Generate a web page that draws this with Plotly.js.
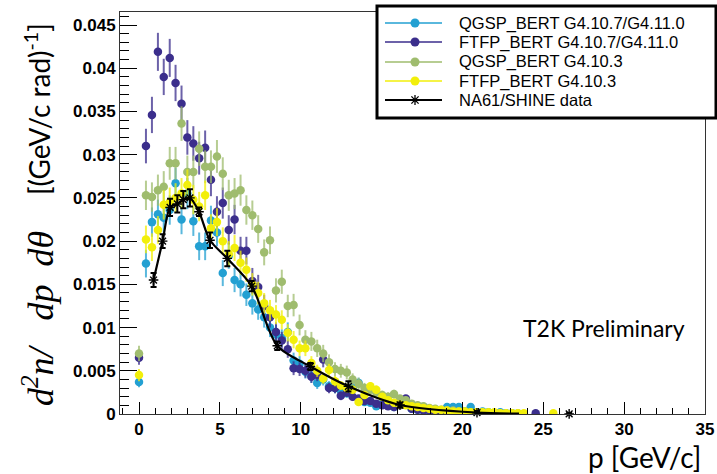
<!DOCTYPE html>
<html><head><meta charset="utf-8">
<script src="https://cdn.plot.ly/plotly-3.0.1.min.js"></script>
<style>html,body{margin:0;padding:0;background:#fff;}#chart{width:717px;height:474px;}</style>
</head><body><div id="chart"></div>
<script>
// momentum bins [GeV/c] shared by the four simulations
const pBins = [0, 0.43, 0.80, 1.17, 1.53, 1.90, 2.26, 2.63, 2.99, 3.36,
 3.72, 4.09, 4.45, 4.82, 5.18, 5.55, 5.91, 6.28, 6.64, 7.01,
 7.37, 7.74, 8.10, 8.47, 8.83, 9.20, 9.56, 9.93, 10.29, 10.66,
 11.02, 11.39, 11.75, 12.12, 12.48, 12.85, 13.21, 13.58, 13.94, 14.31,
 14.67, 15.04, 15.40, 15.77, 16.13, 16.50, 16.86, 17.23, 17.59, 17.96,
 18.32, 18.69, 19.05, 19.42, 19.78, 20.15, 20.51, 20.88, 21.24, 21.61,
 21.97, 22.34, 22.70, 23.07, 23.43, 23.80, 24.16, 24.53, 24.89, 25.26,
 25.62];

const seriesNames = ['QGSP_BERT G4.10.7/G4.11.0', 'FTFP_BERT G4.10.7/G4.11.0', 'QGSP_BERT G4.10.3', 'FTFP_BERT G4.10.3', 'NA61/SHINE data'];
const seriesColors = ['#23a0d2', '#3b2e8c', '#9fbc6e', '#f2ef0a', '#000000'];
const barColors = ['rgba(35,160,210,0.75)', 'rgba(59,46,140,0.75)', 'rgba(159,188,110,0.75)', 'rgba(242,239,10,0.75)'];

const qgspNew = [0.0037, 0.0174, 0.0222, 0.0231, 0.0227, 0.0236, 0.0267, 0.0225, 0.0255, 0.0223,
 0.0194, 0.0194, 0.0224, 0.0210, 0.0163, 0.0183, 0.0155, 0.0150, 0.0138, 0.0128,
 0.0121, 0.0112, 0.0100, 0.0092, 0.0088, 0.0095, 0.0062, 0.0058, 0.0049, 0.0044,
 0.0036, 0.0040, 0.0032, 0.0030, 0.0027, 0.0024, 0.0030, 0.0036, 0.0014, 0.0013,
 0.0009, 0.0012, 0.0010, 0.0008, 0.0011, 0.0012, 0.0006, 0.0005, 0.0004, 0.0003,
 0.0004, 0.0003, 0.0008, 0.0008, 0.0008, 0.0003, 0.0008, 0.0002, 0.0003, 0.0002,
 0.0001, 0.0002, 0.0001, 0.0001, null, null, null, null, null, null,
 null];
const qgspNewErr = [0.0006, 0.0016, 0.0017, 0.0017, 0.0017, 0.0017, 0.0018, 0.0017, 0.0018, 0.0017,
 0.0016, 0.0016, 0.0017, 0.0016, 0.0015, 0.0015, 0.0014, 0.0014, 0.0013, 0.0013,
 0.0012, 0.0012, 0.0011, 0.0011, 0.0010, 0.0011, 0.0009, 0.0009, 0.0008, 0.0008,
 0.0007, 0.0007, 0.0006, 0.0006, 0.0006, 0.0005, 0.0006, 0.0006, 0.0004, 0.0004,
 0.0003, 0.0004, 0.0003, 0.0003, 0.0003, 0.0003, 0.0003, 0.0002, 0.0002, 0.0002,
 0.0002, 0.0002, 0.0003, 0.0003, 0.0003, 0.0002, 0.0003, 0.0001, 0.0002, 0.0001,
 0.0001, 0.0001, 0.0001, 0.0001, null, null, null, null, null, null,
 null];

const ftfpNew = [0.0065, 0.0310, 0.0346, 0.0419, 0.0390, 0.0412, 0.0383, 0.0359, 0.0320, 0.0313,
 0.0296, 0.0308, 0.0271, 0.0234, 0.0244, 0.0213, 0.0225, 0.0189, 0.0189, 0.0154,
 0.0147, 0.0125, 0.0112, 0.0095, 0.0085, 0.0075, 0.0053, 0.0052, 0.0050, 0.0043,
 0.0045, 0.0063, 0.0030, 0.0030, 0.0021, 0.0025, 0.0020, 0.0018, 0.0015, 0.0015,
 0.0012, 0.0010, 0.0009, 0.0008, 0.0010, 0.0018, 0.0006, 0.0005, 0.0004, 0.0004,
 0.0003, 0.0003, 0.0002, 0.0002, 0.0002, 0.0002, 0.0001, 0.0001, null, null,
 null, null, null, null, null, null, null, 0.0001, null, null,
 null];
const ftfpNewErr = [0.0008, 0.0020, 0.0021, 0.0022, 0.0021, 0.0022, 0.0021, 0.0021, 0.0020, 0.0020,
 0.0019, 0.0020, 0.0019, 0.0018, 0.0018, 0.0017, 0.0017, 0.0016, 0.0016, 0.0015,
 0.0014, 0.0013, 0.0012, 0.0011, 0.0010, 0.0010, 0.0008, 0.0008, 0.0008, 0.0007,
 0.0007, 0.0009, 0.0006, 0.0006, 0.0005, 0.0005, 0.0005, 0.0004, 0.0004, 0.0004,
 0.0003, 0.0003, 0.0003, 0.0003, 0.0003, 0.0004, 0.0002, 0.0002, 0.0002, 0.0002,
 0.0001, 0.0001, 0.0001, 0.0001, 0.0001, 0.0001, 0.0001, 0.0001, null, null,
 null, null, null, null, null, null, null, 0.0001, null, null,
 null];

const qgspOld = [0.0070, 0.0253, 0.0251, 0.0259, 0.0263, 0.0290, 0.0290, 0.0336, 0.0280, 0.0280,
 0.0307, 0.0286, 0.0286, 0.0298, 0.0278, 0.0253, 0.0255, 0.0259, 0.0236, 0.0230,
 0.0214, 0.0187, 0.0201, 0.0143, 0.0153, 0.0125, 0.0126, 0.0103, 0.0086, 0.0084,
 0.0076, 0.0070, 0.0060, 0.0052, 0.0050, 0.0048, 0.0040, 0.0035, 0.0030, 0.0028,
 0.0025, 0.0022, 0.0020, 0.0023, 0.0018, 0.0016, 0.0012, 0.0010, 0.0009, 0.0007,
 0.0006, 0.0005, 0.0004, 0.0004, 0.0003, 0.0003, 0.0002, 0.0002, 0.0002, 0.0001,
 0.0001, 0.0001, 0.0001, 0.0001, 0.0001, null, null, null, null, null,
 null];
const qgspOldErr = [0.0009, 0.0017, 0.0017, 0.0018, 0.0018, 0.0019, 0.0019, 0.0020, 0.0019, 0.0019,
 0.0020, 0.0019, 0.0019, 0.0019, 0.0019, 0.0018, 0.0018, 0.0018, 0.0017, 0.0017,
 0.0016, 0.0015, 0.0016, 0.0014, 0.0014, 0.0013, 0.0013, 0.0012, 0.0011, 0.0011,
 0.0010, 0.0010, 0.0009, 0.0008, 0.0008, 0.0008, 0.0007, 0.0007, 0.0006, 0.0006,
 0.0005, 0.0005, 0.0005, 0.0005, 0.0004, 0.0004, 0.0003, 0.0003, 0.0003, 0.0002,
 0.0002, 0.0002, 0.0002, 0.0002, 0.0001, 0.0001, 0.0001, 0.0001, 0.0001, 0.0001,
 0.0001, 0.0001, 0.0001, 0.0001, 0.0001, null, null, null, null, null,
 null];

const ftfpOld = [0.0045, 0.0202, 0.0193, 0.0213, 0.0242, 0.0245, 0.0250, 0.0255, 0.0265, 0.0248,
 0.0240, 0.0253, 0.0215, 0.0222, 0.0200, 0.0185, 0.0192, 0.0175, 0.0167, 0.0150,
 0.0140, 0.0128, 0.0120, 0.0115, 0.0109, 0.0094, 0.0086, 0.0076, 0.0076, 0.0059,
 0.0050, 0.0041, 0.0051, 0.0038, 0.0033, 0.0030, 0.0028, 0.0014, 0.0022, 0.0032,
 0.0028, 0.0020, 0.0016, 0.0013, 0.0011, 0.0010, 0.0009, 0.0008, 0.0007, 0.0006,
 0.0005, 0.0005, 0.0004, 0.0003, 0.0003, 0.0003, 0.0002, 0.0002, 0.0002, 0.0002,
 0.0002, 0.0001, 0.0001, 0.0001, 0.0001, 0.0001, null, null, null, null,
 0.0001];
const ftfpOldErr = [0.0007, 0.0016, 0.0016, 0.0016, 0.0017, 0.0017, 0.0017, 0.0018, 0.0018, 0.0017,
 0.0017, 0.0017, 0.0016, 0.0016, 0.0016, 0.0015, 0.0015, 0.0014, 0.0014, 0.0013,
 0.0013, 0.0012, 0.0012, 0.0011, 0.0011, 0.0010, 0.0010, 0.0009, 0.0009, 0.0008,
 0.0007, 0.0006, 0.0007, 0.0006, 0.0005, 0.0005, 0.0005, 0.0004, 0.0004, 0.0005,
 0.0005, 0.0004, 0.0003, 0.0003, 0.0003, 0.0003, 0.0002, 0.0002, 0.0002, 0.0002,
 0.0002, 0.0002, 0.0001, 0.0001, 0.0001, 0.0001, 0.0001, 0.0001, 0.0001, 0.0001,
 0.0001, 0.0001, 0.0001, 0.0001, 0.0001, 0.0001, null, null, null, null,
 0.0001];

// NA61/SHINE measurement
const na61P = [0.90, 1.46, 1.92, 2.37, 2.74, 3.15, 3.71, 4.39, 5.46, 6.97, 8.55, 10.60, 12.95, 16.14, 20.90, 26.60];
const na61Y = [0.0155, 0.0200, 0.0239, 0.0243, 0.0248, 0.0250, 0.0234, 0.0201, 0.0180, 0.0148, 0.0079, 0.0055, 0.0032, 0.00104, 0.00015, 0.00002];
const na61Err = [0.0008, 0.0008, 0.0010, 0.0010, 0.0010, 0.0010, 0.0005, 0.0009, 0.0009, 0.0006, 0.0005, 0.0004, 0.0006, 0.0003, 0.0002, 0.0001];
// smooth curve drawn through the NA61 points
const na61CurveP = [0.90, 1.46, 1.92, 2.37, 2.74, 3.15, 3.71, 4.39, 5.46, 6.97, 8.55, 10.60, 12.95, 16.14, 20.90, 23.50];
const na61CurveY = [0.0155, 0.0200, 0.0239, 0.0243, 0.0248, 0.0250, 0.0234, 0.0201, 0.0180, 0.0148, 0.0079, 0.0055, 0.0032, 0.00104, 0.00015, 0.00005];

const xTickVals = [0, 5, 10, 15, 20, 25, 30, 35];
const yTickVals = [0, 0.005, 0.01, 0.015, 0.02, 0.025, 0.03, 0.035, 0.04, 0.045];

const L = 120, T = 12, W = 585, H = 402;
const PX = px => (px - L) / W;
const PY = py => (T + H - py) / H;

const simY = [qgspNew, ftfpNew, qgspOld, ftfpOld];
const simErr = [qgspNewErr, ftfpNewErr, qgspOldErr, ftfpOldErr];

const traces = simY.map((ys, i) => ({
  type: 'scatter', mode: 'markers', x: pBins, y: ys, name: seriesNames[i], showlegend: false,
  marker: {color: seriesColors[i], size: 8.5, symbol: 'circle', line: {width: 0}},
  error_y: {type: 'data', array: simErr[i], visible: true, color: barColors[i], thickness: 2, width: 0},
  cliponaxis: true
}));
traces.push({
  type: 'scatter', mode: 'lines', x: na61CurveP, y: na61CurveY, showlegend: false,
  line: {color: '#000', width: 2.2, shape: 'spline', smoothing: 0.8}, hoverinfo: 'skip'
});
traces.push({
  type: 'scatter', mode: 'markers', x: na61P, y: na61Y, name: seriesNames[4], showlegend: false,
  marker: {color: '#000', size: 8, symbol: 'asterisk-open', line: {color: '#000', width: 1.4}},
  error_y: {type: 'data', array: na61Err, visible: true, color: '#000', thickness: 2, width: 3},
  cliponaxis: false
});

// legend (drawn as a framed box)
const shapes = [];
const annotations = [];
shapes.push({type: 'rect', xref: 'paper', yref: 'paper', x0: PX(377), x1: PX(716), y0: PY(118), y1: PY(6),
  line: {color: '#000', width: 3}, fillcolor: '#fff', layer: 'above'});
const rowY = [23, 42, 62, 81, 100];
seriesNames.forEach((nm, i) => {
  const yy = rowY[i];
  shapes.push({type: 'line', xref: 'paper', yref: 'paper', x0: PX(385), x1: PX(442), y0: PY(yy), y1: PY(yy),
    line: {color: seriesColors[i], width: i === 4 ? 2 : 1.3}, layer: 'above'});
  if (i < 4) {
    shapes.push({type: 'circle', xref: 'paper', yref: 'paper', x0: PX(410.5), x1: PX(419.5), y0: PY(yy + 4.5), y1: PY(yy - 4.5),
      line: {width: 0}, fillcolor: seriesColors[i], layer: 'above'});
  } else {
    const c = 415, r = 5, d = 3.6;
    const p = `M${PX(c - r)},${PY(yy)}L${PX(c + r)},${PY(yy)}M${PX(c)},${PY(yy - r)}L${PX(c)},${PY(yy + r)}` +
      `M${PX(c - d)},${PY(yy - d)}L${PX(c + d)},${PY(yy + d)}M${PX(c - d)},${PY(yy + d)}L${PX(c + d)},${PY(yy - d)}`;
    shapes.push({type: 'path', xref: 'paper', yref: 'paper', path: p, line: {color: '#000', width: 1.3}, layer: 'above'});
  }
  annotations.push({xref: 'paper', yref: 'paper', x: PX(457), y: PY(yy), xanchor: 'left', yanchor: 'middle',
    text: nm, showarrow: false, font: {family: 'Liberation Sans, Arial', size: 16.5, color: '#000'}});
});

annotations.push({xref: 'paper', yref: 'paper', x: PX(38), y: PY(319), xanchor: 'center', yanchor: 'middle',
  textangle: -90, showarrow: false, text: 'd<sup>2</sup>n/\u00a0\u00a0\u00a0dp\u00a0\u00a0dθ',
  font: {family: 'Liberation Serif, DejaVu Serif', size: 36, style: 'italic', color: '#000'}});
annotations.push({xref: 'paper', yref: 'paper', x: PX(38), y: PY(109), xanchor: 'center', yanchor: 'middle',
  textangle: -90, showarrow: false, text: '[(GeV/c rad)<sup>-1</sup>]',
  font: {family: 'Lato', size: 28, color: '#000'}});
annotations.push({xref: 'paper', yref: 'paper', x: PX(703), y: PY(457), xanchor: 'right', yanchor: 'middle',
  showarrow: false, text: 'p [GeV/c]', font: {family: 'Lato', size: 28, color: '#000'}});
annotations.push({xref: 'paper', yref: 'paper', x: PX(521), y: PY(328), xanchor: 'left', yanchor: 'middle',
  showarrow: false, text: 'T2K Preliminary', font: {family: 'Lato', size: 23, color: '#000'}});

const tickFont = {family: 'Liberation Sans, Arial', size: 17, weight: 'bold', color: '#000'};
const layout = {
  width: 717, height: 474,
  margin: {l: L, r: 717 - L - W, t: T, b: 474 - T - H, pad: 0},
  paper_bgcolor: '#fff', plot_bgcolor: '#fff',
  showlegend: false,
  xaxis: {range: [-1.175, 35], tickmode: 'array', tickvals: xTickVals, ticktext: xTickVals.map(String),
    ticks: 'inside', ticklen: 12, tickwidth: 1, tickcolor: '#000',
    minor: {dtick: 1, tick0: 0, ticks: 'inside', ticklen: 6, tickcolor: '#000', tickwidth: 1, showgrid: false},
    showgrid: false, zeroline: false, showline: true, mirror: true, linecolor: '#333', linewidth: 1,
    tickfont: tickFont},
  yaxis: {range: [0, 0.04651], tickmode: 'array', tickvals: yTickVals, ticktext: yTickVals.map(String),
    ticks: 'inside', ticklen: 17, tickwidth: 1, tickcolor: '#000',
    minor: {dtick: 0.001, tick0: 0, ticks: 'inside', ticklen: 9, tickcolor: '#000', tickwidth: 1, showgrid: false},
    showgrid: false, zeroline: false, showline: true, mirror: true, linecolor: '#333', linewidth: 1,
    tickfont: tickFont},
  shapes: shapes,
  annotations: annotations
};
Plotly.newPlot('chart', traces, layout, {displayModeBar: false, staticPlot: true});
</script>
</body></html>
